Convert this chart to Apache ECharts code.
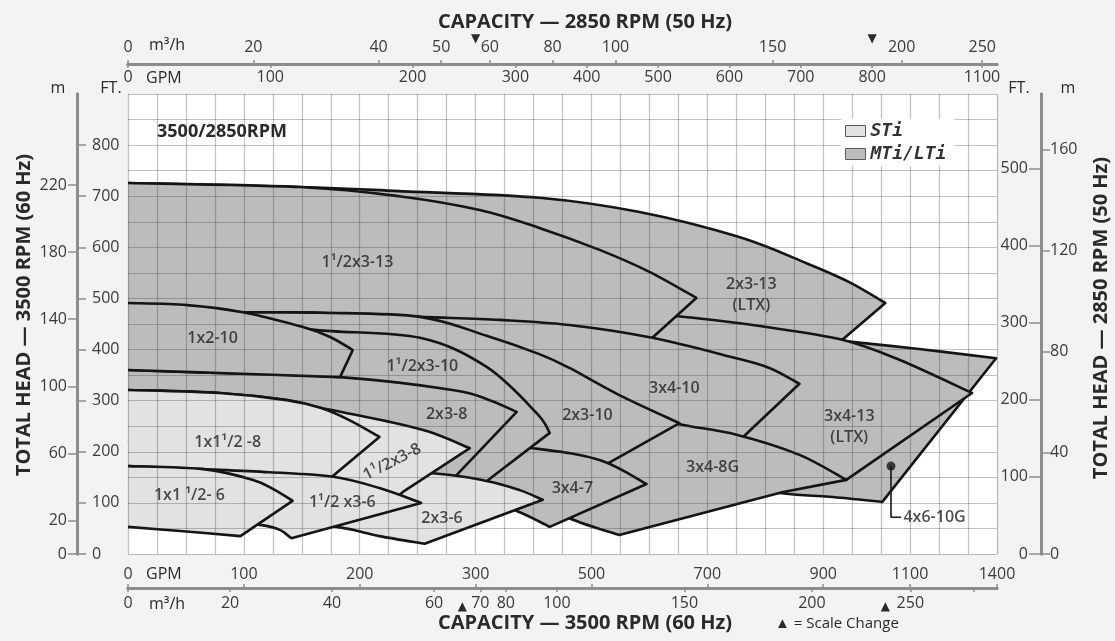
<!DOCTYPE html>
<html>
<head>
<meta charset="utf-8">
<title>3500/2850 RPM pump coverage</title>
<script src="https://cdn.jsdelivr.net/npm/echarts@6.0.0/dist/echarts.min.js"></script>
<style>
  html, body { margin: 0; padding: 0; background: #f3f3f3; }
  #chart { width: 1115px; height: 641px; }
</style>
</head>
<body>
<div id="chart"></div>
<script>
// ---- Coverage outlines: [capacity in US GPM at 3500 RPM, total head in ft at 3500 RPM] ----
// Each outline follows the upper (max impeller) curve from zero flow to its tip,
// runs back along the end line, then follows the lower curve back to zero flow.
const p2x3_13  = [[0,726],[148,718],[234,710],[410,697],[583,669],[755,620],[871,569],[960,532],[1043,491],[944,419],[802,432],[669,440],[514,440],[0,440]];
const p4x6_10G = [[0,438],[341,438],[686,438],[859,427],[944,417],[1131,401],[1397,383],[1036,102],[914,112],[829,119],[686,145],[514,164],[0,203]];
const p3x4_13  = [[0,497],[234,487],[514,473],[640,466],[802,444],[944,419],[1075,380],[1314,315],[953,145],[824,164],[686,184],[514,203],[0,223]];
const p1h3_13  = [[0,726],[148,718],[234,700],[307,673],[410,638],[514,595],[600,552],[681,501],[605,423],[592,409],[462,428],[234,428],[0,419]];
const p3x4_10  = [[0,477],[99,473],[166,472],[252,464],[341,458],[462,448],[605,423],[743,385],[807,364],[859,333],[743,209],[600,223],[341,262],[0,301]];
const p3x4_8G  = [[0,311],[341,301],[514,292],[583,276],[652,254],[752,233],[859,194],[953,145],[829,121],[548,37],[462,70],[376,121],[234,180],[0,223]];
const p2x3_10  = [[0,477],[99,473],[166,472],[252,464],[319,427],[410,391],[462,364],[548,311],[652,256],[517,170],[341,194],[0,243]];
const p3x4_7   = [[0,243],[234,233],[398,207],[514,184],[595,137],[428,53],[371,84],[307,106],[0,145]];
const p1h3_10  = [[0,468],[105,458],[163,438],[252,423],[319,366],[405,276],[428,237],[329,151],[309,133],[269,145],[234,164],[0,223]];
const p2x3_8   = [[0,360],[79,354],[183,346],[280,321],[324,301],[371,278],[286,160],[279,143],[234,164],[0,203]];
const p1x2_10  = [[0,491],[51,487],[99,473],[151,444],[174,425],[194,399],[183,346],[79,354],[0,360]];
const p2x3_6   = [[0,180],[148,174],[263,158],[319,143],[376,125],[416,106],[256,20],[217,35],[180,53],[105,70],[0,86]];
const p1h3_8   = [[0,321],[79,315],[137,301],[166,286],[223,260],[260,239],[295,207],[237,121],[233,113],[183,139],[0,141]];
const p1x1h_8  = [[0,321],[79,315],[137,301],[166,286],[191,262],[217,229],[176,151],[171,141],[0,149]];
const p1h3_6   = [[0,172],[65,166],[122,160],[177,151],[217,129],[253,100],[141,31],[114,57],[0,76]];
const p1x1h_6  = [[0,172],[65,166],[108,145],[127,125],[142,104],[97,35],[45,45],[0,53]];

// Drawing order, back to front:
// [pump size, product line, outline, index of tip, index where the lower curve starts]
const coverage = [
  ['2x3-13',     'MTi/LTi', p2x3_13,  8, 9],
  ['4x6-10G',    'MTi/LTi', p4x6_10G, 6, 7],
  ['3x4-13',     'MTi/LTi', p3x4_13,  7, 8],
  ['1 1/2x3-13', 'MTi/LTi', p1h3_13,  7, 9],
  ['3x4-10',     'MTi/LTi', p3x4_10,  9, 10],
  ['3x4-8G',     'MTi/LTi', p3x4_8G,  7, 9],
  ['2x3-10',     'MTi/LTi', p2x3_10,  8, 9],
  ['3x4-7',      'MTi/LTi', p3x4_7,   4, 5],
  ['1 1/2x3-10', 'MTi/LTi', p1h3_10,  6, 8],
  ['2x3-8',      'MTi/LTi', p2x3_8,   5, 7],
  ['1x2-10',     'MTi/LTi', p1x2_10,  5, 6],
  ['2x3-6',      'STi',     p2x3_6,   5, 6],
  ['1 1/2x3-8',  'STi',     p1h3_8,   6, 8],
  ['1x1 1/2-8',  'STi',     p1x1h_8,  5, 7],
  ['1 1/2x3-6',  'STi',     p1h3_6,   5, 6],
  ['1x1 1/2-6',  'STi',     p1x1h_6,  4, 5]
];

// Size labels: [text, GPM, ft]
const regionLabels = [
  ['1¹/2x3-13', 198, 571],
  ['2x3-13\n(LTX)', 776, 507],
  ['1x2-10', 73, 421],
  ['1¹/2x3-10', 254, 366],
  ['3x4-10', 643, 323],
  ['2x3-8', 275, 274],
  ['2x3-10', 493, 272],
  ['3x4-13\n(LTX)', 960, 248],
  ['1x1¹/2 -8', 86, 219],
  ['1¹/2x3-8', 228, 180],
  ['3x4-8G', 709, 170],
  ['3x4-7', 467, 129],
  ['1x1 ¹/2- 6', 53, 115],
  ['1¹/2 x3-6', 185, 100],
  ['2x3-6', 271, 70]
];
const tiltedLabel = '1¹/2x3-8';
// 4x6-10G call-out: marker, elbow, text anchor
const callout4x6 = [[1056, 172], [1056, 72], [1079, 72]];

// ---- Axis scales ----
// The capacity scales change step twice; breakpoints map capacity to grid columns (0..30).
const bottomGpmBreaks = [[0, 0], [300, 12], [900, 24], [1100, 27], [1400, 30]];
const topGpmBreaks = [[0, 0], [244.3, 12], [800, 25.69], [1100, 29.48]];
const GPM_PER_M3H = 4.402868;
const M_PER_FT = 0.3048;
const HEAD_MAX_FT = 900;
const SPEED_RATIO = 2850 / 3500;

const bottomGpmTicks = [0, 100, 200, 300, 500, 700, 900, 1100, 1400];
const bottomM3hLabels = [0, 20, 40, 60, 70, 80, 100, 150, 200, 250];
const bottomM3hTicks = [0, 20, 40, 60, 70, 80, 100, 150, 200, 250, 300];
const topGpmTicks = [0, 100, 200, 300, 400, 500, 600, 700, 800, 1100];
const topM3hTicks = [0, 20, 40, 50, 60, 80, 100, 150, 200, 250];
const leftFtTicks = [0, 100, 200, 300, 400, 500, 600, 700, 800];
const leftMTicks = [0, 20, 60, 100, 140, 180, 220];
const rightFtTicks = [0, 100, 200, 300, 400, 500];
const rightMTicks = [0, 40, 80, 120, 160];

function piecewise(breaks) {
  return v => {
    for (let i = 1; i < breaks.length; i++) {
      const [a0, c0] = breaks[i - 1], [a1, c1] = breaks[i];
      if (v <= a1 || i === breaks.length - 1) return c0 + (v - a0) * (c1 - c0) / (a1 - a0);
    }
  };
}
const bottomCol = piecewise(bottomGpmBreaks);
const topCol = piecewise(topGpmBreaks);
const m3hToGpm = v => v * GPM_PER_M3H;

const FONT = '"Open Sans", "Noto Sans", sans-serif';
const AXIS_GREY = '#8d8d8d';
const LABEL_COLOR = '#3a3a3a';
const TICK_SIZE = 16;
const FILL = { 'STi': '#e2e2e2', 'MTi/LTi': '#bcbcbc' };

function capacityAxis({ position, ticks, labels, toGpm, toCol, inside, margin }) {
  const tickCols = ticks.map(v => toCol(toGpm(v)));
  const labelCols = labels.map(v => toCol(toGpm(v)));
  const text = new Map(labelCols.map((c, i) => [c.toFixed(4), String(labels[i])]));
  return {
    type: 'value', gridIndex: 0, min: 0, max: 30, position, offset: position === 'top' ? 30 : 34,
    axisLine: { show: true, onZero: false, lineStyle: { color: AXIS_GREY, width: 3 } },
    axisTick: { show: true, inside, length: 4, customValues: tickCols, lineStyle: { color: AXIS_GREY, width: 1.5 } },
    axisLabel: {
      show: true, inside, margin, customValues: labelCols,
      formatter: v => text.get(v.toFixed(4)) || '',
      color: LABEL_COLOR, fontSize: TICK_SIZE, fontFamily: FONT
    },
    splitLine: { show: false }
  };
}

function headAxis({ position, max, ticks, inside, margin, tickLen }) {
  return {
    type: 'value', gridIndex: 0, min: 0, max, position, offset: position === 'left' ? 51 : 44,
    axisLine: { show: true, onZero: false, lineStyle: { color: AXIS_GREY, width: 3 } },
    axisTick: { show: true, inside, length: tickLen, customValues: ticks, lineStyle: { color: AXIS_GREY, width: 1.5 } },
    axisLabel: { show: true, inside, margin, customValues: ticks, color: LABEL_COLOR, fontSize: TICK_SIZE, fontFamily: FONT },
    splitLine: { show: false }
  };
}

// Smooth curve through screen points (Catmull-Rom as cubic Bezier segments)
function curveTo(pts) {
  let d = '';
  for (let i = 0; i < pts.length - 1; i++) {
    const p0 = pts[Math.max(i - 1, 0)], p1 = pts[i], p2 = pts[i + 1], p3 = pts[Math.min(i + 2, pts.length - 1)];
    const c1x = p1[0] + (p2[0] - p0[0]) / 6, c1y = p1[1] + (p2[1] - p0[1]) / 6;
    const c2x = p2[0] - (p3[0] - p1[0]) / 6, c2y = p2[1] - (p3[1] - p1[1]) / 6;
    d += ' C' + c1x.toFixed(2) + ',' + c1y.toFixed(2) + ',' + c2x.toFixed(2) + ',' + c2y.toFixed(2) + ',' + p2[0].toFixed(2) + ',' + p2[1].toFixed(2);
  }
  return d;
}
function outlinePath(pts, tip, lowStart) {
  let d = 'M' + pts[0][0].toFixed(2) + ',' + pts[0][1].toFixed(2);
  d += curveTo(pts.slice(0, tip + 1));
  for (let i = tip + 1; i <= lowStart; i++) d += ' L' + pts[i][0].toFixed(2) + ',' + pts[i][1].toFixed(2);
  d += curveTo(pts.slice(lowStart));
  return d;
}

const gridLine = { show: true, lineStyle: { color: 'rgba(50,50,50,0.3)', width: 1.2 } };

const regionSeries = coverage.map(([size, line, outline, tip, lowStart], k) => ({
  type: 'custom', name: line, id: 'pump-' + size,
  xAxisIndex: 0, yAxisIndex: 0, z: 2, silent: true,
  itemStyle: { color: FILL[line] },
  data: [[0, 0]],
  renderItem: (params, api) => {
    const pts = outline.map(([q, h]) => api.coord([bottomCol(q), h]));
    const d = outlinePath(pts, tip, lowStart);
    return {
      type: 'group',
      children: [
        { type: 'path', z2: 2 * k, shape: { pathData: d + ' Z' }, style: { fill: FILL[line], stroke: 'none' } },
        { type: 'path', z2: 2 * k + 1, shape: { pathData: d },
          style: { fill: 'none', stroke: '#141414', lineWidth: 2.6, lineJoin: 'round' } }
      ]
    };
  }
}));

const option = {
  animation: false,
  backgroundColor: '#f3f3f3',
  textStyle: { fontFamily: FONT },
  grid: { left: 128, right: 118, top: 94, bottom: 87, show: true, backgroundColor: '#ffffff', borderWidth: 0 },
  legend: {
    data: ['STi', 'MTi/LTi'], orient: 'vertical', left: 841, top: 119, z: 6,
    backgroundColor: '#ffffff', padding: [3, 8, 3, 4], itemGap: 5,
    icon: 'rect', itemWidth: 20, itemHeight: 11, selectedMode: false,
    itemStyle: { borderColor: '#5a5a5a', borderWidth: 1 },
    textStyle: { fontFamily: '"DejaVu Sans Mono", monospace', fontStyle: 'italic', fontWeight: 'bold', fontSize: 18, color: '#333' }
  },
  xAxis: [
    { type: 'value', gridIndex: 0, min: 0, max: 30, interval: 1, z: 3,
      axisLine: { show: false }, axisTick: { show: false }, axisLabel: { show: false }, splitLine: gridLine },
    capacityAxis({ position: 'bottom', ticks: bottomGpmTicks, labels: bottomGpmTicks, toGpm: v => v, toCol: bottomCol, inside: true, margin: 6 }),
    capacityAxis({ position: 'bottom', ticks: bottomM3hTicks, labels: bottomM3hLabels, toGpm: m3hToGpm, toCol: bottomCol, inside: false, margin: 7 }),
    capacityAxis({ position: 'top', ticks: topGpmTicks, labels: topGpmTicks, toGpm: v => v, toCol: topCol, inside: true, margin: 5 }),
    capacityAxis({ position: 'top', ticks: topM3hTicks, labels: topM3hTicks, toGpm: m3hToGpm, toCol: topCol, inside: false, margin: 9 })
  ],
  yAxis: [
    { type: 'value', gridIndex: 0, min: 0, max: HEAD_MAX_FT, interval: 50, z: 3,
      axisLine: { show: false }, axisTick: { show: false }, axisLabel: { show: false }, splitLine: gridLine },
    headAxis({ position: 'left', max: HEAD_MAX_FT, ticks: leftFtTicks, inside: true, margin: 15, tickLen: 9 }),
    headAxis({ position: 'left', max: HEAD_MAX_FT * M_PER_FT, ticks: leftMTicks, inside: false, margin: 10, tickLen: 9 }),
    headAxis({ position: 'right', max: HEAD_MAX_FT * SPEED_RATIO * SPEED_RATIO, ticks: rightFtTicks, inside: true, margin: 13, tickLen: 12 }),
    headAxis({ position: 'right', max: HEAD_MAX_FT * SPEED_RATIO * SPEED_RATIO * M_PER_FT, ticks: rightMTicks, inside: false, margin: 9, tickLen: 9 })
  ],
  series: regionSeries.concat([
    {
      type: 'scatter', name: 'size labels', xAxisIndex: 0, yAxisIndex: 0, z: 5, silent: true,
      symbolSize: 1, itemStyle: { color: 'rgba(0,0,0,0)' },
      data: regionLabels.map(([text, q, h]) => {
        const item = { name: text, value: [bottomCol(q), h] };
        if (text === tiltedLabel) item.label = { rotate: 27 };
        return item;
      }),
      label: { show: true, position: 'inside', formatter: p => p.name, color: '#1f1f1f',
        fontSize: 16, fontWeight: 600, fontFamily: FONT, lineHeight: 21 }
    },
    {
      type: 'line', name: '4x6-10G leader', xAxisIndex: 0, yAxisIndex: 0, z: 5, silent: true,
      symbol: 'none', lineStyle: { color: '#161616', width: 1.6 },
      data: callout4x6.map(([q, h]) => [bottomCol(q), h])
    },
    {
      type: 'scatter', name: '4x6-10G marker', xAxisIndex: 0, yAxisIndex: 0, z: 6, silent: true,
      symbolSize: 9, itemStyle: { color: '#161616' },
      data: [[bottomCol(callout4x6[0][0]), callout4x6[0][1]]]
    },
    {
      type: 'scatter', name: '4x6-10G label', xAxisIndex: 0, yAxisIndex: 0, z: 6, silent: true,
      symbolSize: 1, itemStyle: { color: 'rgba(0,0,0,0)' },
      data: [{ name: '4x6-10G', value: [bottomCol(callout4x6[2][0]), callout4x6[2][1]] }],
      label: { show: true, position: 'right', distance: 2, formatter: p => p.name, color: '#1f1f1f',
        fontSize: 16, fontWeight: 600, fontFamily: FONT }
    }
  ])
};

const chart = echarts.init(document.getElementById('chart'), null, { renderer: 'canvas' });
chart.setOption(option);

// Titles, unit names and scale-change markers
const px = col => chart.convertToPixel({ xAxisIndex: 0 }, col);
function txt(x, y, text, font, align, extra) {
  return Object.assign({
    type: 'text', x, y, silent: true, z: 10,
    style: { text, font, fill: '#2a2a2a', align, verticalAlign: 'middle', textAlign: align, textVerticalAlign: 'middle' }
  }, extra || {});
}
const TITLE_FONT = 'bold 20px "Open Sans", sans-serif';
const UNIT_FONT = '16px "Open Sans", sans-serif';
const MARK_FONT = '12px "DejaVu Sans", sans-serif';
chart.setOption({
  graphic: [
    txt(585, 22, 'CAPACITY — 2850 RPM (50 Hz)', TITLE_FONT, 'center'),
    txt(585, 623, 'CAPACITY — 3500 RPM (60 Hz)', TITLE_FONT, 'center'),
    txt(775, 624, '▲ = Scale Change', '15px "Open Sans", sans-serif', 'left'),
    txt(24, 315, 'TOTAL HEAD — 3500 RPM (60 Hz)', TITLE_FONT, 'center', { rotation: Math.PI / 2 }),
    txt(1101, 318, 'TOTAL HEAD — 2850 RPM (50 Hz)', TITLE_FONT, 'center', { rotation: Math.PI / 2 }),
    txt(58, 88, 'm', UNIT_FONT, 'center'),
    txt(111, 88, 'FT.', UNIT_FONT, 'center'),
    txt(1019, 88, 'FT.', UNIT_FONT, 'center'),
    txt(1068, 88, 'm', UNIT_FONT, 'center'),
    txt(149, 45, 'm³/h', UNIT_FONT, 'left'),
    txt(146, 78, 'GPM', UNIT_FONT, 'left'),
    txt(146, 574, 'GPM', UNIT_FONT, 'left'),
    txt(149, 604, 'm³/h', UNIT_FONT, 'left'),
    txt(157, 132, '3500/2850RPM', 'bold 18px "Open Sans", sans-serif', 'left'),
    txt(px(topCol(244.3)), 39, '▼', MARK_FONT, 'center'),
    txt(px(topCol(800)), 39, '▼', MARK_FONT, 'center'),
    txt(px(bottomCol(m3hToGpm(70))) - 18, 607, '▲', MARK_FONT, 'center'),
    txt(px(bottomCol(m3hToGpm(250))) - 25, 607, '▲', MARK_FONT, 'center')
  ]
});
</script>
</body>
</html>
